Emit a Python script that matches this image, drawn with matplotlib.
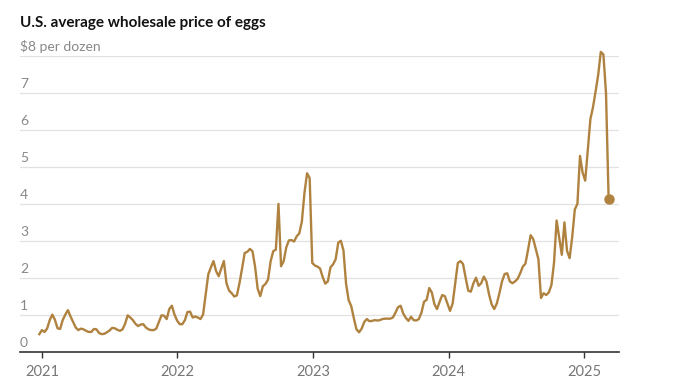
import matplotlib
matplotlib.use("Agg")
import matplotlib.pyplot as plt
import pandas as pd

# Weekly U.S. average wholesale egg price, $ per dozen
start_date = "2020-12-25"
prices = [
    0.47, 0.58, 0.53, 0.62, 0.85, 1.00, 0.86, 0.63, 0.61, 0.85,
    1.00, 1.12, 0.95, 0.80, 0.65, 0.58, 0.62, 0.60, 0.56, 0.53,
    0.53, 0.61, 0.60, 0.50, 0.47, 0.48, 0.52, 0.57, 0.64, 0.63,
    0.59, 0.56, 0.60, 0.75, 0.98, 0.92, 0.85, 0.75, 0.69, 0.73,
    0.74, 0.65, 0.60, 0.58, 0.58, 0.62, 0.80, 0.98, 0.97, 0.88,
    1.15, 1.24, 1.00, 0.84, 0.74, 0.74, 0.85, 1.07, 1.08, 0.92,
    0.95, 0.92, 0.88, 1.00, 1.55, 2.09, 2.28, 2.45, 2.18, 2.04,
    2.25, 2.45, 1.85, 1.65, 1.58, 1.49, 1.52, 1.85, 2.25, 2.67,
    2.70, 2.78, 2.72, 2.30, 1.70, 1.50, 1.77, 1.83, 1.95, 2.45,
    2.72, 2.76, 4.00, 2.31, 2.45, 2.82, 3.01, 3.02, 2.98, 3.12,
    3.20, 3.52, 4.30, 4.83, 4.70, 2.40, 2.33, 2.30, 2.25, 2.02,
    1.84, 1.90, 2.28, 2.36, 2.50, 2.95, 3.00, 2.74, 1.84, 1.39,
    1.23, 0.90, 0.60, 0.52, 0.62, 0.80, 0.88, 0.82, 0.83, 0.85,
    0.84, 0.85, 0.88, 0.89, 0.89, 0.89, 0.92, 1.05, 1.20, 1.24,
    1.03, 0.91, 0.83, 0.94, 0.85, 0.84, 0.88, 1.05, 1.35, 1.40,
    1.72, 1.60, 1.28, 1.15, 1.35, 1.53, 1.50, 1.30, 1.10, 1.30,
    1.85, 2.40, 2.45, 2.37, 2.00, 1.65, 1.62, 1.85, 2.00, 1.78,
    1.85, 2.03, 1.90, 1.55, 1.28, 1.15, 1.30, 1.58, 1.90, 2.10,
    2.12, 1.90, 1.85, 1.90, 1.97, 2.12, 2.30, 2.38, 2.75, 3.15,
    3.05, 2.77, 2.50, 1.45, 1.58, 1.53, 1.60, 1.80, 2.40, 3.55,
    3.08, 2.62, 3.50, 2.73, 2.53, 3.10, 3.85, 4.00, 5.30, 4.85,
    4.63, 5.45, 6.30, 6.62, 7.05, 7.50, 8.12, 8.05, 7.00, 4.14,
]
dates = pd.date_range(start_date, periods=len(prices), freq="7D")

y_ticks = [0, 1, 2, 3, 4, 5, 6, 7, 8]
y_labels = ["0", "1", "2", "3", "4", "5", "6", "7", "$8 per dozen"]
x_years = [2021, 2022, 2023, 2024, 2025]

title = "U.S. average wholesale price of eggs"

line_color = "#b0823f"
plt.rcParams["font.family"] = ["Lato", "DejaVu Sans"]

fig = plt.figure(figsize=(6.82, 3.85), dpi=100)
ax = fig.add_axes([20 / 682, 33.5 / 385, 599 / 682, 295.2 / 385])

ax.plot(dates, prices, color=line_color, lw=1.7, solid_joinstyle="round",
        zorder=3, clip_on=False)
ax.plot(dates[-1:], prices[-1:], "o", color=line_color, ms=6.5, zorder=4,
        clip_on=False)

ax.set_ylim(0, 8)
ax.set_xlim(pd.Timestamp("2020-11-03"), pd.Timestamp("2025-04-04"))

for v in y_ticks[1:]:
    ax.axhline(v, color="#e2e2e2", lw=0.9, zorder=1)
for v, lab in zip(y_ticks, y_labels):
    ax.text(0, v + 0.08, lab, transform=ax.get_yaxis_transform(),
            ha="left", va="bottom", fontsize=10, color="#888888")

for s in ["top", "right", "left"]:
    ax.spines[s].set_visible(False)
ax.spines["bottom"].set_color("#333333")
ax.spines["bottom"].set_linewidth(1.2)
ax.set_yticks([])

ax.set_xticks([pd.Timestamp(f"{y}-01-01") for y in x_years])
ax.set_xticklabels([str(y) for y in x_years])
ax.tick_params(axis="x", length=4, width=1, color="#333333", pad=6,
               labelsize=10.5, labelcolor="#777777")

fig.text(20 / 682, 1 - 23 / 385, title, fontsize=11, fontweight="bold",
         color="#121212", ha="left", va="center")

fig.savefig("out.png", dpi=100)
